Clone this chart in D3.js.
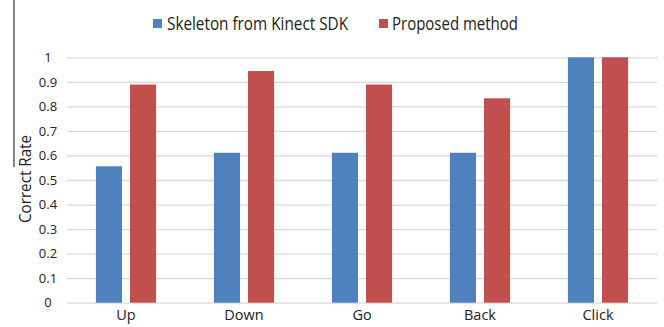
<!DOCTYPE html>
<html>
<head>
<meta charset="utf-8">
<script src="https://cdn.jsdelivr.net/npm/d3@7"></script>
<style>
  html, body { margin: 0; padding: 0; background: #fff; }
  svg { display: block; font-family: "Open Sans", "Noto Sans", sans-serif; }
</style>
</head>
<body>
<svg id="chart" width="664" height="327"></svg>
<script>
// Gesture recognition correct rate per gesture
const categories = ["Up", "Down", "Go", "Back", "Click"];
const seriesNames = ["Skeleton from Kinect SDK", "Proposed method"];
const kinectValues = [0.556, 0.611, 0.611, 0.611, 1.0];
const proposedValues = [0.889, 0.944, 0.889, 0.833, 1.0];
const yTicks = [0, 0.1, 0.2, 0.3, 0.4, 0.5, 0.6, 0.7, 0.8, 0.9, 1];
const yTickLabels = ["0", "0.1", "0.2", "0.3", "0.4", "0.5", "0.6", "0.7", "0.8", "0.9", "1"];
const colors = ["#4f81bd", "#c0504d"];

const seriesValues = [kinectValues, proposedValues];
const rows = categories.map((c, i) => ({
  category: c,
  values: seriesNames.map((s, k) => ({ series: s, value: seriesValues[k][i], color: colors[k] }))
}));

const svg = d3.select("#chart");

const plotLeft = 67, plotRight = 657, plotTop = 57.3, plotBottom = 302.7;

const x0 = d3.scaleBand()
  .domain(categories)
  .range([plotLeft, plotRight])
  .paddingInner(0.49)
  .paddingOuter(0.245);

const x1 = d3.scaleBand()
  .domain(seriesNames)
  .range([0, x0.bandwidth()])
  .paddingInner(0.235);

const y = d3.scaleLinear().domain([0, 1]).range([plotBottom, plotTop]);

// gridlines
const grid = svg.append("g")
  .attr("transform", `translate(${plotLeft},0)`)
  .call(d3.axisLeft(y).tickValues(yTicks).tickSize(-(plotRight - plotLeft)).tickFormat(""));
grid.select(".domain").remove();
grid.selectAll(".tick line").attr("stroke", "#d9d9d9").attr("stroke-width", 1.3);

// y tick labels
const yAxis = svg.append("g")
  .attr("transform", `translate(${plotLeft},0)`)
  .call(d3.axisLeft(y).tickValues(yTicks).tickSize(0).tickPadding(19)
    .tickFormat((d, i) => yTickLabels[i]));
yAxis.select(".domain").remove();
yAxis.selectAll("text")
  .attr("text-anchor", "middle")
  .attr("font-size", 13)
  .attr("fill", "#222")
  .attr("font-family", "'Open Sans', sans-serif");

// bars
const groups = svg.append("g").selectAll("g")
  .data(rows)
  .join("g")
  .attr("transform", d => `translate(${x0(d.category)},0)`);

groups.selectAll("rect")
  .data(d => d.values)
  .join("rect")
  .attr("x", d => x1(d.series))
  .attr("width", x1.bandwidth())
  .attr("y", d => y(d.value))
  .attr("height", d => y(0) - y(d.value))
  .attr("fill", d => d.color);

// x category labels
const xAxis = svg.append("g")
  .attr("transform", `translate(0,${plotBottom})`)
  .call(d3.axisBottom(x0).tickSize(0).tickPadding(7));
xAxis.select(".domain").remove();
xAxis.selectAll("text")
  .attr("font-size", 14.5)
  .attr("fill", "#222")
  .attr("font-family", "'Open Sans', sans-serif");

// y axis title
svg.append("text")
  .attr("transform", "translate(30.5,179) rotate(-90)")
  .attr("text-anchor", "middle")
  .attr("font-size", 16.5)
  .attr("textLength", 88)
  .attr("lengthAdjust", "spacingAndGlyphs")
  .attr("fill", "#222")
  .text("Correct Rate");

// left border line
svg.append("line")
  .attr("x1", 14).attr("x2", 14)
  .attr("y1", 0).attr("y2", 167)
  .attr("stroke", "#333").attr("stroke-width", 1.2);

// legend
const legendItems = [
  { name: seriesNames[0], color: colors[0], sx: 153, tx: 167, w: 181 },
  { name: seriesNames[1], color: colors[1], sx: 379, tx: 392, w: 126 }
];
const legend = svg.append("g");
legend.selectAll("rect")
  .data(legendItems)
  .join("rect")
  .attr("x", d => d.sx).attr("y", 19)
  .attr("width", 9).attr("height", 9)
  .attr("fill", d => d.color);
legend.selectAll("text")
  .data(legendItems)
  .join("text")
  .attr("x", d => d.tx).attr("y", 30)
  .attr("font-size", 17.5)
  .attr("fill", "#222")
  .attr("textLength", d => d.w)
  .attr("lengthAdjust", "spacingAndGlyphs")
  .text(d => d.name);
</script>
</body>
</html>
